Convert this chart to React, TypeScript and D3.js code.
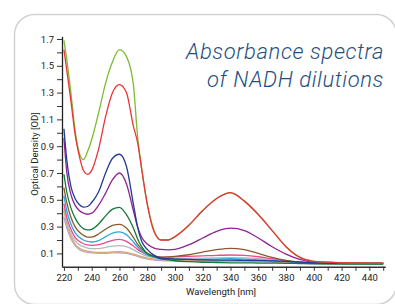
import { useEffect, useRef } from 'react';
import * as d3 from 'd3';

// wavelength grid (nm) shared by all spectra
const wavelengths = [220, 222, 225, 228, 231, 234, 237, 240, 245, 250, 255, 260, 265, 270, 273, 276, 280, 285, 290, 295, 300, 310, 320, 330, 340, 350, 360, 370, 380, 390, 400, 425, 450];

// optical density per dilution
const greenSeries = [1.69, 1.55, 1.30, 1.02, 0.85, 0.80, 0.86, 0.95, 1.15, 1.37, 1.53, 1.62, 1.57, 1.36, 0.98, 0.73, 0.47, 0.27, 0.20, 0.20, 0.225, 0.31, 0.42, 0.51, 0.552, 0.49, 0.39, 0.27, 0.15, 0.07, 0.04, 0.03, 0.028];
const redSeries = [1.62, 1.47, 1.24, 0.99, 0.83, 0.72, 0.69, 0.72, 0.88, 1.12, 1.30, 1.36, 1.30, 1.05, 0.93, 0.73, 0.47, 0.26, 0.20, 0.20, 0.225, 0.31, 0.42, 0.51, 0.553, 0.49, 0.39, 0.27, 0.15, 0.07, 0.04, 0.03, 0.028];
const blueSeries = [1.03, 0.80, 0.60, 0.51, 0.465, 0.445, 0.45, 0.48, 0.56, 0.70, 0.81, 0.84, 0.75, 0.47, 0.30, 0.19, 0.13, 0.085, 0.065, 0.06, 0.058, 0.055, 0.052, 0.05, 0.05, 0.048, 0.046, 0.044, 0.04, 0.035, 0.03, 0.026, 0.025];
const purpleSeries = [0.96, 0.71, 0.54, 0.46, 0.42, 0.40, 0.392, 0.40, 0.46, 0.55, 0.65, 0.70, 0.62, 0.42, 0.30, 0.22, 0.17, 0.14, 0.13, 0.127, 0.13, 0.165, 0.215, 0.265, 0.288, 0.27, 0.215, 0.15, 0.095, 0.055, 0.035, 0.03, 0.028];
const darkGreenSeries = [0.69, 0.56, 0.44, 0.365, 0.315, 0.285, 0.275, 0.28, 0.32, 0.38, 0.43, 0.444, 0.39, 0.29, 0.21, 0.15, 0.10, 0.075, 0.06, 0.052, 0.045, 0.038, 0.034, 0.032, 0.03, 0.03, 0.028, 0.027, 0.026, 0.024, 0.022, 0.02, 0.02];
const brownSeries = [0.59, 0.48, 0.37, 0.30, 0.26, 0.235, 0.222, 0.222, 0.245, 0.28, 0.31, 0.317, 0.29, 0.22, 0.17, 0.135, 0.10, 0.08, 0.072, 0.074, 0.078, 0.09, 0.11, 0.128, 0.138, 0.128, 0.10, 0.07, 0.048, 0.035, 0.028, 0.025, 0.024];
const lightBlueSeries = [0.53, 0.42, 0.32, 0.255, 0.22, 0.20, 0.19, 0.185, 0.195, 0.225, 0.252, 0.26, 0.24, 0.185, 0.15, 0.12, 0.09, 0.07, 0.06, 0.056, 0.055, 0.055, 0.056, 0.058, 0.06, 0.058, 0.052, 0.045, 0.038, 0.032, 0.028, 0.025, 0.024];
const pinkSeries = [0.47, 0.37, 0.28, 0.22, 0.19, 0.172, 0.163, 0.16, 0.165, 0.18, 0.198, 0.205, 0.19, 0.155, 0.13, 0.11, 0.09, 0.078, 0.072, 0.072, 0.074, 0.078, 0.082, 0.086, 0.088, 0.085, 0.075, 0.06, 0.045, 0.035, 0.03, 0.027, 0.026];
const graySeries = [0.44, 0.34, 0.25, 0.195, 0.165, 0.15, 0.14, 0.135, 0.135, 0.145, 0.155, 0.158, 0.15, 0.128, 0.11, 0.095, 0.08, 0.07, 0.064, 0.062, 0.062, 0.063, 0.065, 0.067, 0.068, 0.066, 0.06, 0.05, 0.04, 0.032, 0.027, 0.024, 0.023];
const tanSeries = [0.42, 0.32, 0.23, 0.17, 0.14, 0.125, 0.117, 0.112, 0.108, 0.108, 0.112, 0.113, 0.108, 0.095, 0.085, 0.075, 0.066, 0.058, 0.054, 0.052, 0.05, 0.048, 0.047, 0.046, 0.046, 0.045, 0.043, 0.04, 0.035, 0.03, 0.026, 0.023, 0.022];
const lavenderSeries = [0.37, 0.29, 0.21, 0.16, 0.13, 0.115, 0.108, 0.104, 0.10, 0.10, 0.104, 0.105, 0.10, 0.088, 0.078, 0.068, 0.058, 0.05, 0.046, 0.044, 0.043, 0.042, 0.041, 0.04, 0.04, 0.039, 0.037, 0.034, 0.03, 0.026, 0.023, 0.021, 0.02];

// drawing order: back to front
const seriesList = [
  { name: 'lavender', values: lavenderSeries, color: '#b9a3d6' },
  { name: 'tan', values: tanSeries, color: '#d9a86b' },
  { name: 'gray', values: graySeries, color: '#b8b8b8' },
  { name: 'pink', values: pinkSeries, color: '#ec4a8c' },
  { name: 'lightBlue', values: lightBlueSeries, color: '#2aa9e0' },
  { name: 'brown', values: brownSeries, color: '#8a5a2e' },
  { name: 'darkGreen', values: darkGreenSeries, color: '#137a3c' },
  { name: 'purple', values: purpleSeries, color: '#8e2491' },
  { name: 'blue', values: blueSeries, color: '#253a94' },
  { name: 'green', values: greenSeries, color: '#7dbb30' },
  { name: 'red', values: redSeries, color: '#e8363a' },
];

const xTicks = d3.range(220, 451, 10);
const xLabels = d3.range(220, 441, 20);
const yTicks = d3.range(1, 18).map(i => i / 10);
const yLabels = [0.1, 0.3, 0.5, 0.7, 0.9, 1.1, 1.3, 1.5, 1.7];

const titleLines = ['Absorbance spectra', 'of NADH dilutions'];

const W = 395;
const H = 304;

const App = () => {
  const ref = useRef<SVGSVGElement | null>(null);

  useEffect(() => {
    if (!ref.current) return;
    const svg = d3.select(ref.current);
    svg.selectAll('*').remove();

    // card background
    svg.append('rect')
      .attr('x', 14.5).attr('y', 14.5)
      .attr('width', 382).attr('height', 290)
      .attr('rx', 20)
      .attr('fill', '#fff')
      .attr('stroke', '#d2d2d2')
      .attr('stroke-width', 1.5);

    const x = d3.scaleLinear().domain([218.6, 451.5]).range([62, 385.3]);
    const y = d3.scaleLinear().domain([0, 1.72]).range([266.8, 36.3]);

    const line = d3.line<number>()
      .x((_, i) => x(wavelengths[i]))
      .y(d => y(d))
      .curve(d3.curveMonotoneX);

    seriesList.forEach(s => {
      svg.append('path')
        .datum(s.values)
        .attr('fill', 'none')
        .attr('stroke', s.color)
        .attr('stroke-width', 1.3)
        .attr('d', line);
    });

    const font = 'Roboto, "Open Sans", sans-serif';

    // x axis
    const xAxis = svg.append('g')
      .attr('transform', `translate(0,${y(0)})`)
      .call(d3.axisBottom(x)
        .tickValues(xTicks)
        .tickSize(4)
        .tickSizeOuter(0)
        .tickPadding(3)
        .tickFormat(d => (xLabels.includes(d as number) ? String(d) : '')));
    xAxis.select('.domain').attr('stroke', '#333').attr('stroke-width', 1.4);
    xAxis.selectAll('line').attr('stroke', '#333');
    xAxis.selectAll('text').style('font-size', '9.5px').style('font-family', font).attr('fill', '#222');

    // y axis
    const yAxis = svg.append('g')
      .attr('transform', `translate(${x(218.6)},0)`)
      .call(d3.axisLeft(y)
        .tickValues(yTicks)
        .tickSize(5)
        .tickSizeOuter(0)
        .tickPadding(3)
        .tickFormat(d => (yLabels.some(v => Math.abs(v - (d as number)) < 1e-6) ? d3.format('.1f')(d as number) : '')));
    yAxis.select('.domain').attr('stroke', '#222').attr('stroke-width', 1.3);
    yAxis.selectAll('line').attr('stroke', '#333');
    yAxis.selectAll('text').style('font-size', '9.5px').style('font-family', font).attr('fill', '#222');

    // axis titles
    svg.append('text')
      .attr('transform', `translate(37.5,${154}) rotate(-90)`)
      .attr('text-anchor', 'middle')
      .style('font-size', '9.5px')
      .style('font-family', font)
      .attr('fill', '#222')
      .text('Optical Density [OD]');

    svg.append('text')
      .attr('x', 221)
      .attr('y', 294.5)
      .attr('text-anchor', 'middle')
      .style('font-size', '9.5px')
      .style('font-family', font)
      .attr('fill', '#222')
      .text('Wavelength [nm]');

    // title
    titleLines.forEach((t, i) => {
      svg.append('text')
        .attr('x', 384)
        .attr('y', 58.5 + i * 28)
        .attr('text-anchor', 'end')
        .style('font-size', '22px')
        .style('font-style', 'italic')
        .style('font-weight', 300)
        .style('letter-spacing', '0.6px')
        .style('font-family', font)
        .attr('fill', '#1f4f7e')
        .text(t);
    });

    return () => {
      svg.selectAll('*').remove();
    };
  }, []);

  return (
    <svg ref={ref} width={W} height={H} style={{ position: 'absolute', left: 0, top: 0 }} />
  );
};

export default App;
